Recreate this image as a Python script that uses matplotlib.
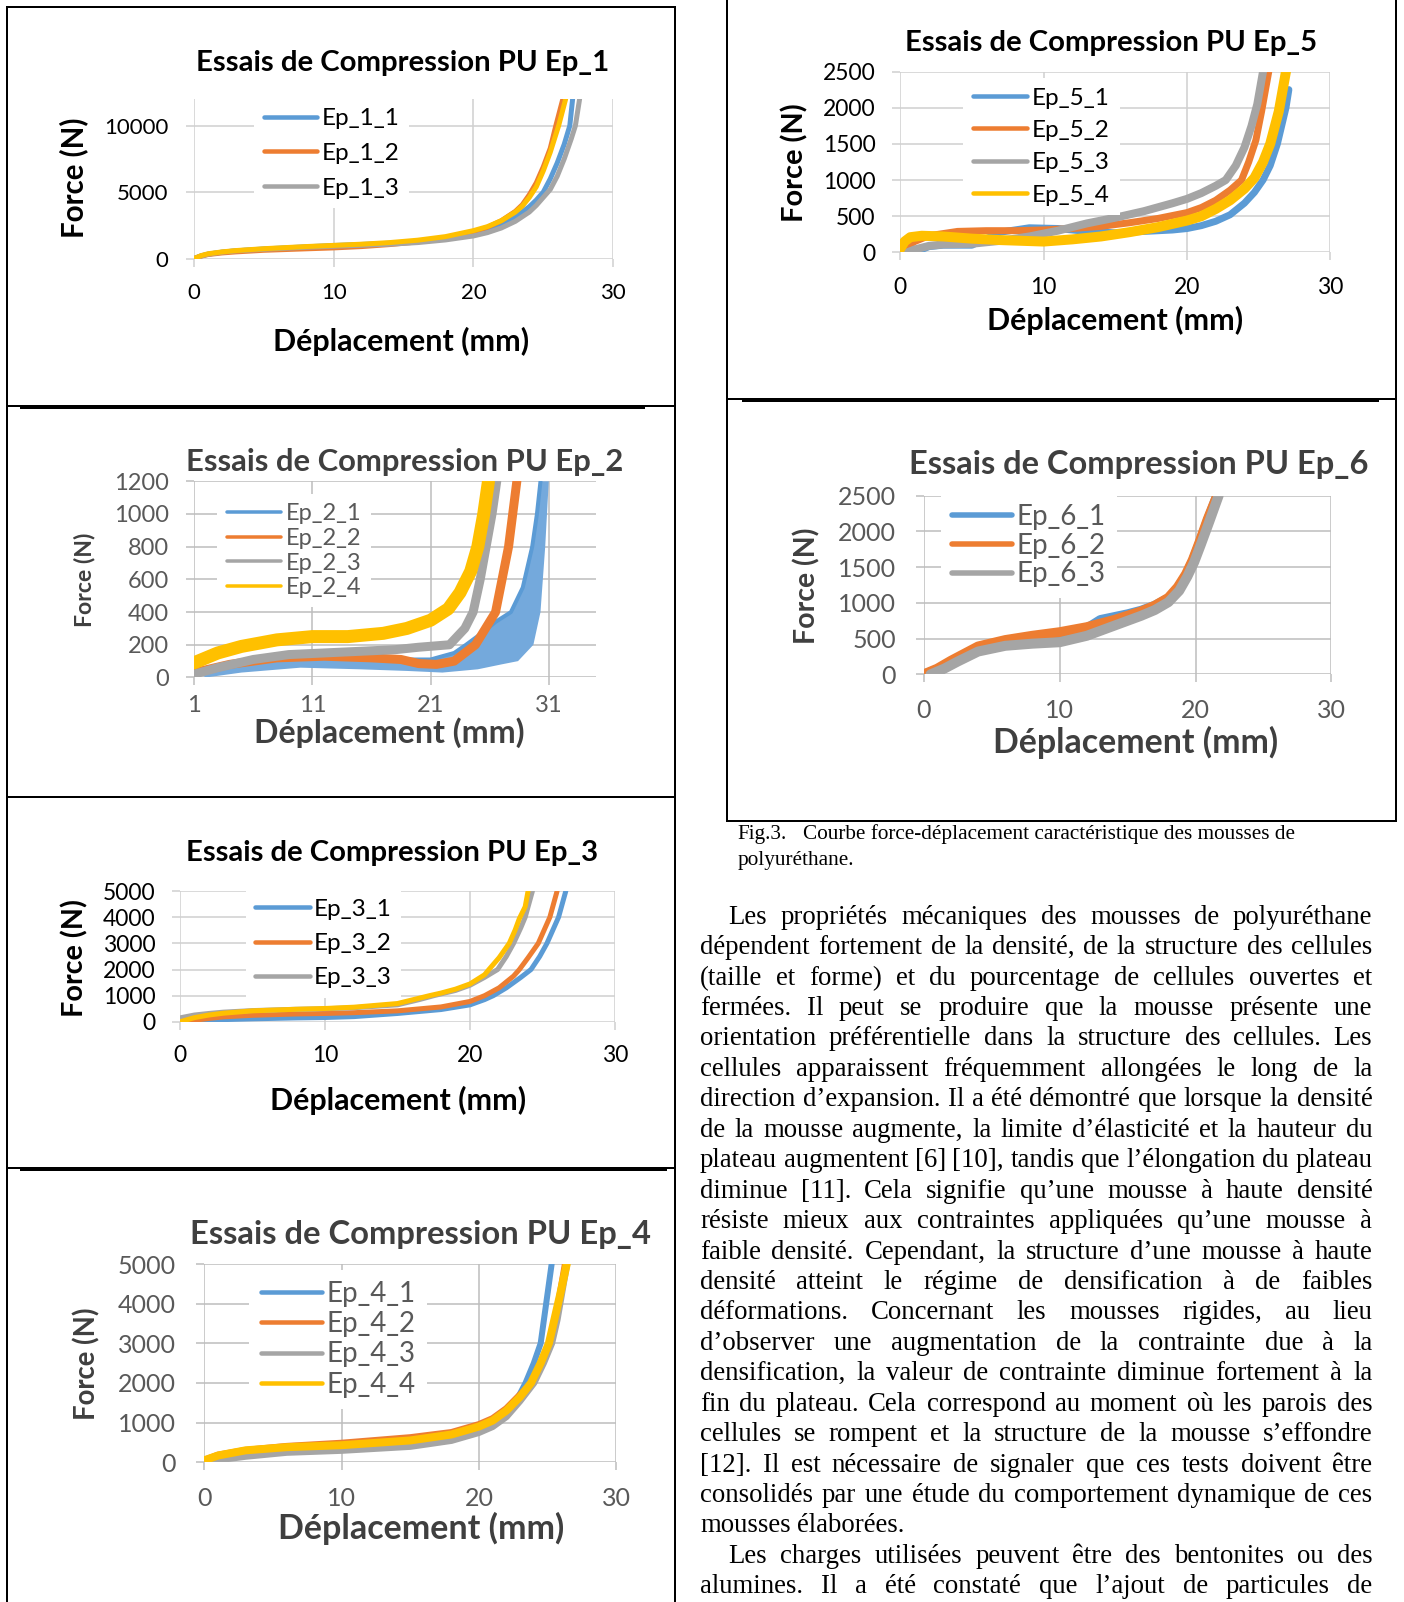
import matplotlib
matplotlib.use('Agg')
import matplotlib.pyplot as plt
from matplotlib.lines import Line2D

W, H = 1404, 1602
S = W / 1374.0   # positions below were read on a 1374 px wide copy of the page
FONT = 'Lato'
SERIF = 'Liberation Serif'
BLUE, ORANGE, GRAY, YELLOW = '#5b9bd5', '#ed7d31', '#a5a5a5', '#ffc000'

# ---------- values (x: mm, y: N) ----------
EP1_1_X = [0, 0.5, 1, 2, 3, 5, 8, 10, 12, 14, 16, 18, 20, 21, 22, 23, 24, 24.5, 25, 25.5, 26, 26.5, 26.9, 27.1]
EP1_1_Y = [0, 200, 330, 480, 580, 720, 880, 980, 1060, 1150, 1300, 1520, 1900, 2200, 2550, 3100, 3900, 4400, 5000, 6000, 7200, 8600, 10000, 12000]
EP1_2_X = [0, 0.5, 1, 2, 3, 5, 8, 10, 12, 14, 16, 18, 20, 21, 22, 23, 23.5, 24, 24.5, 25, 25.5, 25.9, 26.4]
EP1_2_Y = [0, 180, 300, 420, 500, 620, 730, 800, 900, 1050, 1250, 1550, 2000, 2350, 2850, 3550, 4050, 4800, 5700, 6900, 8300, 10000, 12000]
EP1_3_X = [0, 0.5, 1, 2, 3, 5, 8, 10, 12, 14, 16, 18, 20, 21, 22, 23, 24, 24.5, 25, 25.5, 26, 26.5, 27, 27.3, 27.6]
EP1_3_Y = [0, 200, 330, 480, 580, 700, 850, 930, 1000, 1080, 1200, 1400, 1700, 1950, 2300, 2800, 3500, 4000, 4600, 5200, 6200, 7500, 9000, 10000, 12000]
EP1_4_X = [0, 0.5, 1, 2, 3, 5, 8, 10, 12, 14, 16, 18, 20, 21, 22, 23, 23.5, 24, 24.5, 25, 25.5, 26.1, 26.6]
EP1_4_Y = [0, 220, 360, 500, 600, 740, 900, 990, 1080, 1200, 1380, 1650, 2100, 2400, 2850, 3500, 3950, 4600, 5400, 6600, 8000, 10000, 12000]

EP2_1_HI_X = [1.5, 4, 7, 10, 13, 16, 19, 21, 23, 24, 25.5, 26.5, 27.8, 28.8, 29.6, 30.0, 30.3]
EP2_1_HI_Y = [20, 80, 130, 140, 130, 120, 110, 110, 150, 200, 280, 340, 400, 550, 800, 1000, 1200]
EP2_1_LO_X = [2, 5, 10, 15, 19, 22, 25, 27, 28.4, 29.7, 30.3, 30.7, 31.0]
EP2_1_LO_Y = [0, 30, 60, 50, 40, 30, 50, 80, 100, 200, 400, 800, 1200]
EP2_2_X = [1, 4, 8, 12, 16, 18.5, 20, 21.5, 23, 24.8, 26.5, 27.6, 28.3]
EP2_2_Y = [30, 80, 120, 130, 120, 110, 85, 80, 100, 200, 400, 800, 1200]
EP2_3_X = [1, 3, 6, 9, 12, 15, 18, 20, 22.6, 23.9, 24.6, 25.2, 25.7, 26.2, 26.6]
EP2_3_Y = [20, 60, 110, 140, 150, 160, 170, 185, 200, 300, 400, 600, 800, 1000, 1200]
EP2_4_X = [1, 3, 5, 8, 11, 14, 17, 19, 21, 22.5, 23.5, 24.4, 25, 25.5, 25.9]
EP2_4_Y = [90, 150, 190, 230, 250, 250, 270, 300, 350, 420, 520, 650, 800, 1000, 1200]

EP3_1_X = [0.8, 1.5, 2, 3, 5, 8, 10, 12, 15, 18, 20, 21, 21.6, 22.5, 23.5, 24.2, 24.8, 25.3, 25.7, 26.1, 26.6]
EP3_1_Y = [0, 40, 60, 85, 115, 150, 165, 200, 320, 470, 650, 850, 1000, 1300, 1700, 2000, 2500, 3000, 3500, 4000, 5000]
EP3_2_X = [0.5, 1, 2, 3, 5, 8, 10, 12, 15, 18, 20, 21, 22, 23, 23.4, 24, 24.7, 25.1, 25.5, 26.0]
EP3_2_Y = [0, 60, 130, 190, 250, 300, 320, 350, 420, 570, 780, 1000, 1300, 1750, 2000, 2450, 3000, 3500, 4000, 5000]
EP3_3_X = [0, 1, 2, 3, 5, 8, 10, 12, 15, 16.5, 17.5, 19, 20, 21, 21.9, 22.5, 23.0, 23.5, 23.8, 24.3]
EP3_3_Y = [150, 260, 320, 370, 430, 480, 500, 540, 650, 850, 1000, 1200, 1400, 1700, 2000, 2500, 3000, 3600, 4000, 5000]
EP3_4_X = [0, 0.5, 1, 2, 3, 5, 8, 10, 12, 15, 17.2, 18, 19, 20, 21, 21.3, 22, 22.7, 23.1, 23.4, 23.8, 24.0]
EP3_4_Y = [0, 80, 160, 260, 330, 420, 480, 510, 560, 700, 1000, 1100, 1250, 1450, 1800, 2000, 2450, 3000, 3500, 3950, 4400, 5000]

EP4_1_X = [0, 1, 3, 6, 10, 15, 18, 20, 21, 22, 22.8, 23.4, 24.0, 24.5, 24.7, 24.9, 25.3]
EP4_1_Y = [0, 80, 200, 300, 350, 450, 600, 800, 950, 1250, 1600, 2000, 2500, 3000, 3500, 4000, 5000]
EP4_2_X = [0, 1, 3, 6, 10, 15, 18, 20, 21, 22, 23, 23.9, 24.6, 25.2, 25.6, 25.9, 26.3]
EP4_2_Y = [50, 180, 300, 400, 480, 620, 750, 950, 1100, 1350, 1700, 2000, 2500, 3000, 3600, 4200, 5000]
EP4_3_X = [0, 1, 3, 6, 10, 15, 18, 20, 21, 22, 23, 24.0, 24.7, 25.3, 25.7, 26.0, 26.4]
EP4_3_Y = [0, 60, 150, 250, 300, 400, 550, 750, 900, 1150, 1550, 2000, 2500, 3000, 3600, 4200, 5000]
EP4_4_X = [0, 1, 3, 6, 10, 15, 18, 20, 21, 22, 23, 23.8, 24.5, 25.1, 25.5, 25.9, 26.4]
EP4_4_Y = [50, 170, 300, 380, 430, 550, 700, 900, 1050, 1300, 1650, 2000, 2500, 3000, 3600, 4200, 5000]

EP5_1_X = [1.0, 1.5, 2, 3, 5, 7, 9, 11, 13, 15, 17, 19, 20, 21, 22, 23, 24, 24.7, 25.3, 25.8, 26.3, 26.9, 27.1]
EP5_1_Y = [0, 40, 80, 100, 100, 280, 340, 330, 290, 270, 290, 310, 330, 370, 430, 520, 680, 830, 1000, 1200, 1500, 2000, 2250]
EP5_2_X = [0, 0.5, 1, 2, 4, 6, 8, 10, 12, 14, 16, 18, 20, 21, 22, 23, 23.8, 24.3, 24.8, 25.2, 25.7]
EP5_2_Y = [0, 80, 150, 230, 290, 300, 300, 310, 330, 360, 410, 470, 550, 620, 720, 860, 1000, 1250, 1550, 1950, 2500]
EP5_3_X = [0.5, 1, 2, 3, 5, 7, 9, 11, 13, 15, 17, 19, 20, 21, 22, 22.7, 23.4, 24.0, 24.5, 24.9, 25.3]
EP5_3_Y = [0, 40, 90, 110, 120, 160, 220, 300, 400, 480, 570, 680, 740, 820, 920, 1000, 1200, 1450, 1750, 2050, 2500]
EP5_4_X = [0, 0.3, 0.7, 1.5, 3, 5, 7, 10, 12, 14, 16, 18, 20, 21, 22, 23, 24, 24.7, 25.3, 25.8, 26.4, 26.9]
EP5_4_Y = [50, 150, 210, 230, 220, 190, 170, 150, 180, 220, 280, 350, 440, 500, 600, 720, 880, 1030, 1250, 1500, 1950, 2500]

EP6_1_X = [0, 1, 2, 4, 6, 8, 10, 12, 13, 14, 15, 16, 17, 18, 18.7, 19.3, 19.8, 20.3, 20.9, 21.6]
EP6_1_Y = [0, 60, 160, 360, 450, 500, 540, 640, 760, 800, 840, 890, 960, 1060, 1200, 1380, 1580, 1830, 2150, 2500]
EP6_2_X = [0, 1, 2, 4, 6, 8, 10, 12, 14, 15, 16, 17, 18, 18.7, 19.3, 19.8, 20.3, 20.9, 21.6]
EP6_2_Y = [0, 80, 190, 390, 480, 540, 590, 660, 760, 820, 880, 960, 1070, 1220, 1400, 1600, 1850, 2170, 2500]
EP6_3_X = [0.5, 1.5, 2.5, 4, 6, 8, 10, 12, 14, 15, 16, 17, 18, 18.8, 19.4, 19.9, 20.4, 21.0, 21.7]
EP6_3_Y = [0, 80, 180, 320, 400, 430, 450, 540, 680, 750, 820, 900, 1010, 1170, 1370, 1570, 1820, 2130, 2500]

TICKS_5000 = [0, 1000, 2000, 3000, 4000, 5000]
TICKS_2500 = [0, 500, 1000, 1500, 2000, 2500]

CAPTION = ['Fig.3.', 'Courbe force-déplacement caractéristique des mousses de', 'polyuréthane.']
PARA1 = [
    'Les propriétés mécaniques des mousses de polyuréthane',
    'dépendent fortement de la densité, de la structure des cellules',
    '(taille et forme) et du pourcentage de cellules ouvertes et',
    'fermées. Il peut se produire que la mousse présente une',
    'orientation préférentielle dans la structure des cellules. Les',
    'cellules apparaissent fréquemment allongées le long de la',
    'direction d’expansion. Il a été démontré que lorsque la densité',
    'de la mousse augmente, la limite d’élasticité et la hauteur du',
    'plateau augmentent [6] [10], tandis que l’élongation du plateau',
    'diminue [11]. Cela signifie qu’une mousse à haute densité',
    'résiste mieux aux contraintes appliquées qu’une mousse à',
    'faible densité. Cependant, la structure d’une mousse à haute',
    'densité atteint le régime de densification à de faibles',
    'déformations. Concernant les mousses rigides, au lieu',
    'd’observer une augmentation de la contrainte due à la',
    'densification, la valeur de contrainte diminue fortement à la',
    'fin du plateau. Cela correspond au moment où les parois des',
    'cellules se rompent et la structure de la mousse s’effondre',
    '[12]. Il est nécessaire de signaler que ces tests doivent être',
    'consolidés par une étude du comportement dynamique de ces',
    'mousses élaborées.',
]
PARA2 = [
    'Les charges utilisées peuvent être des bentonites ou des',
    'alumines. Il a été constaté que l’ajout de particules de',
]

plt.rcParams['font.family'] = FONT
fig = plt.figure(figsize=(W / 100, H / 100), dpi=100)
rend = fig.canvas.get_renderer()


def fit(t, target, vertical=False):
    bb = t.get_window_extent(rend)
    cur = bb.height if vertical else bb.width
    t.set_fontsize(t.get_fontsize() * target * S / cur)


def centre(t, ax, pos):
    bb = t.get_window_extent(rend)
    x, y = t.get_position()
    dx = pos[0] * S - (bb.x0 + bb.x1) / 2
    dy = (H - pos[1] * S) - (bb.y0 + bb.y1) / 2
    t.set_position((x + dx / ax.bbox.width, y + dy / ax.bbox.height))


def chart(box, ylim, yticks, series, labels, title, tpos, tw, xpos, xw, ypos, yh,
          xty, ytr, leg, tick_fs, leg_lw, crisp=True, xlim=(0, 30), xticks=(0, 10, 20, 30), band=None):
    L, R, T, B = [v * S for v in box]
    ax = fig.add_axes([L / W, 1 - B / H, (R - L) / W, (B - T) / H])
    ink = 'black' if crisp else '#3f3f3f'
    soft = 'black' if crisp else '#595959'
    gc = '#d0d0d0' if crisp else '#bdbdbd'
    ax.set_xlim(*xlim)
    ax.set_ylim(*ylim)
    ax.set_xticks(list(xticks), [str(v) for v in xticks])
    ax.set_yticks(list(yticks), [str(v) for v in yticks])
    for sp in ax.spines.values():
        sp.set_visible(False)
    ax.grid(True, color=gc, lw=1.1)
    ax.set_axisbelow(True)
    ax.tick_params(length=6, width=1.1, color=gc, labelsize=tick_fs, labelcolor=soft, pad=10)
    if band is not None:
        ax.fill(band[0], band[1], color=band[2], lw=0)
    lines = []
    for x, y, c, lw in series:
        lines += ax.plot(x, y, color=c, lw=lw * 0.72, solid_joinstyle='round', solid_capstyle='round')

    t = ax.set_title(title, pad=0, y=1.0, fontsize=18, fontweight='bold', color=ink, va='center')
    xl = ax.set_xlabel('Déplacement (mm)', fontsize=18, fontweight='bold', color=ink, va='center')
    ax.xaxis.set_label_coords(0.5, -0.4)
    yl = ax.set_ylabel('Force (N)', fontsize=18, fontweight='bold', color=ink, va='center')
    ax.yaxis.set_label_coords(-0.2, 0.5)
    fit(t, tw)
    fit(xl, xw)
    fit(yl, yh, True)
    centre(t, ax, tpos)
    centre(xl, ax, xpos)
    centre(yl, ax, ypos)

    # legend: white box over the grid, nudged until the first label sits where it should
    hl, hlen, tl, row1, gap, lfs = leg
    fpx = lfs / 0.72
    aw, ah = ax.bbox.width, ax.bbox.height
    anchor = [(hl * S - L) / aw - 0.4 * fpx / aw, (B - row1 * S) / ah + 0.9 * fpx / ah]
    ls = 0.4
    for i in range(4):
        lg = ax.legend(lines[:len(labels)], labels, loc='upper left', bbox_to_anchor=tuple(anchor),
                       borderaxespad=0, borderpad=0.4, frameon=True, facecolor='white',
                       edgecolor='none', framealpha=1, fancybox=False,
                       prop={'family': FONT, 'size': lfs}, labelcolor=soft,
                       handlelength=hlen * S / fpx, handletextpad=(tl - hl - hlen) * S / fpx,
                       labelspacing=ls)
        for ln in lg.get_lines():
            ln.set_linewidth(leg_lw * 0.72)
        if i == 3:
            break
        fig.canvas.draw()
        b0 = lg.get_texts()[0].get_window_extent(rend)
        b1 = lg.get_texts()[1].get_window_extent(rend)
        c0 = (b0.y0 + b0.y1) / 2
        c1 = (b1.y0 + b1.y1) / 2
        anchor[0] += (tl * S - b0.x0) / aw
        anchor[1] += ((H - row1 * S) - c0) / ah
        ls = max(0.0, ls + (gap * S - (c0 - c1)) / fpx)

    fig.canvas.draw()
    xb = ax.get_xticklabels()[0].get_window_extent(rend)
    yb = ax.get_yticklabels()[0].get_window_extent(rend)
    ax.tick_params(axis='x', pad=10 + ((xb.y0 + xb.y1) / 2 - (H - xty * S)) * 0.72)
    ax.tick_params(axis='y', pad=10 + (yb.x1 - ytr * S) * 0.72)
    return ax


# Ep_1
chart((190, 600, 97, 253), (0, 12000), [0, 5000, 10000],
      [(EP1_1_X, EP1_1_Y, BLUE, 5), (EP1_2_X, EP1_2_Y, ORANGE, 5),
       (EP1_3_X, EP1_3_Y, GRAY, 5), (EP1_4_X, EP1_4_Y, YELLOW, 5)],
      ['Ep_1_1', 'Ep_1_2', 'Ep_1_3'], 'Essais de Compression PU Ep_1', (394.5, 62), 405,
      (392.5, 334), 249, (72, 174), 118, 287, 165, (258, 52, 315, 116, 34, 17.5), 16, 4.5)

# Ep_2 (blurry screenshot in the original)
chart((190, 583.3, 471, 663), (0, 1200), [0, 200, 400, 600, 800, 1000, 1200],
      [(EP2_1_HI_X, EP2_1_HI_Y, BLUE, 4), (EP2_2_X, EP2_2_Y, ORANGE, 9),
       (EP2_3_X, EP2_3_Y, GRAY, 9), (EP2_4_X, EP2_4_Y, YELLOW, 13)],
      ['Ep_2_1', 'Ep_2_2', 'Ep_2_3', 'Ep_2_4'], 'Essais de Compression PU Ep_2', (396, 452), 428,
      (381, 717), 264, (83, 567), 92, 690, 165, (222, 53, 280, 503, 24, 17), 17, 3.5,
      crisp=False, xlim=(1, 35), xticks=(1, 11, 21, 31),
      band=(EP2_1_HI_X + EP2_1_LO_X[::-1], EP2_1_HI_Y + EP2_1_LO_Y[::-1], '#74a9dc'))

# Ep_3
chart((176, 602, 872, 1000), (0, 5000), TICKS_5000,
      [(EP3_1_X, EP3_1_Y, BLUE, 5), (EP3_2_X, EP3_2_Y, ORANGE, 5),
       (EP3_3_X, EP3_3_Y, GRAY, 5), (EP3_4_X, EP3_4_Y, YELLOW, 5)],
      ['Ep_3_1', 'Ep_3_2', 'Ep_3_3'], 'Essais de Compression PU Ep_3', (384, 835), 404,
      (389.5, 1077), 249, (73, 938), 115, 1033, 152, (250, 53, 307, 890, 33.5, 17.5), 16.5, 4.5)

# Ep_4
chart((200, 603, 1237, 1431), (0, 5000), TICKS_5000,
      [(EP4_1_X, EP4_1_Y, BLUE, 6), (EP4_2_X, EP4_2_Y, ORANGE, 7),
       (EP4_3_X, EP4_3_Y, GRAY, 7), (EP4_4_X, EP4_4_Y, YELLOW, 8)],
      ['Ep_4_1', 'Ep_4_2', 'Ep_4_3', 'Ep_4_4'], 'Essais de Compression PU Ep_4', (412, 1208), 452,
      (412.5, 1496), 279, (85, 1335), 110, 1466, 172, (255, 60, 320, 1266, 29.7, 20), 18, 4.5,
      crisp=False)

# Ep_5
chart((881, 1302, 70, 247), (0, 2500), TICKS_2500,
      [(EP5_1_X, EP5_1_Y, BLUE, 7), (EP5_2_X, EP5_2_Y, ORANGE, 7),
       (EP5_3_X, EP5_3_Y, GRAY, 8), (EP5_4_X, EP5_4_Y, YELLOW, 10)],
      ['Ep_5_1', 'Ep_5_2', 'Ep_5_3', 'Ep_5_4'], 'Essais de Compression PU Ep_5', (1087.5, 42), 405,
      (1091.5, 314), 249, (778, 159), 116, 281, 857, (952, 53, 1010, 96, 31.7, 17.5), 16.5, 4.5)

# Ep_6
chart((904, 1303, 485, 660), (0, 2500), TICKS_2500,
      [(EP6_1_X, EP6_1_Y, BLUE, 10), (EP6_2_X, EP6_2_Y, ORANGE, 10), (EP6_3_X, EP6_3_Y, GRAY, 10)],
      ['Ep_6_1', 'Ep_6_2', 'Ep_6_3'], 'Essais de Compression PU Ep_6', (1114.5, 455), 451,
      (1111, 727), 278, (790, 573), 114, 695, 877, (932, 58, 995, 506, 28, 20), 18, 5.5,
      crisp=False)


# page frames around the figure panels
def seg(x0, y0, x1, y1, lw):
    fig.add_artist(Line2D([x0 * S / W, x1 * S / W], [1 - y0 * S / H, 1 - y1 * S / H],
                          color='black', lw=lw * 0.72, transform=fig.transFigure))


seg(7, 7, 661, 7, 2)
seg(7, 7, 7, 1570, 2)
seg(661, 7, 661, 1570, 2)
seg(7, 397, 661, 397, 2)
seg(22, 398, 629, 398, 4)
seg(7, 780, 661, 780, 2)
seg(7, 1143, 661, 1143, 2)
seg(22, 1144, 651, 1144, 4)
seg(711, -2, 711, 803, 2)
seg(1366, -2, 1366, 803, 2)
seg(711, 390, 1366, 390, 2)
seg(728, 391, 1348, 391, 4)
seg(711, 803, 1366, 803, 2)

# ---------- caption and justified body text ----------
probe = fig.text(0, 0, '', family=SERIF, fontsize=20)


def width(s, fs):
    probe.set_text(s)
    probe.set_fontsize(fs)
    return probe.get_window_extent(rend).width


def put(x, yc, s, fs):
    fig.text(x / W, 1 - (yc + 0.25 * fs / 0.72) / H, s, family=SERIF, fontsize=fs,
             va='baseline', ha='left', color='black')


cfs = 20 * 481 * S / width(CAPTION[1], 20)
put(722 * S, 816 * S, CAPTION[0], cfs)
put(786 * S, 816 * S, CAPTION[1], cfs)
put(722 * S, 841 * S, CAPTION[2], cfs)

left, right, indent = 685 * S, 1343 * S, 28 * S
body = PARA1 + PARA2
starts = {0, len(PARA1)}
ragged = {len(PARA1) - 1}
bfs = 20 * min((right - left - (indent if i in starts else 0)) / width(s, 20)
               for i, s in enumerate(body) if i not in ragged)
for i, s in enumerate(body):
    words = s.split(' ')
    ws = [width(w, bfs) for w in words]
    x = left + (indent if i in starts else 0)
    if i in ragged:
        gap = (width(s, bfs) - sum(ws)) / (len(words) - 1)
    else:
        gap = (right - x - sum(ws)) / (len(words) - 1)
    yc = (897.5 + 29.78 * i) * S
    for w, wd in zip(words, ws):
        put(x, yc, w, bfs)
        x += wd + gap
probe.remove()

fig.savefig('out.png', dpi=100)
